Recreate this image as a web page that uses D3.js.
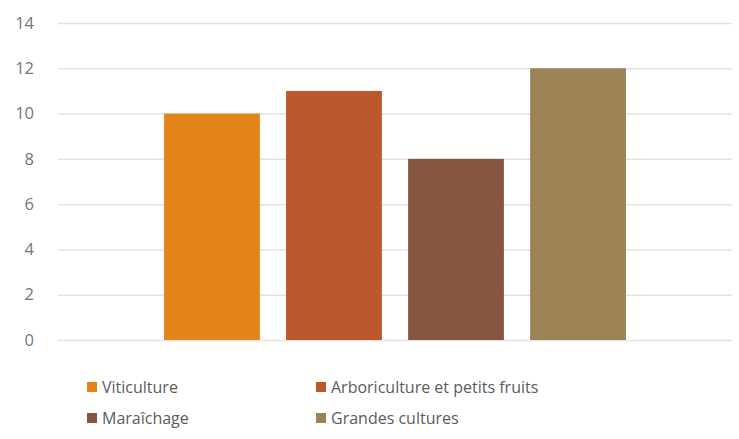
<!DOCTYPE html>
<html>
<head>
<meta charset="utf-8">
<script src="https://cdn.jsdelivr.net/npm/d3@7"></script>
<style>
  body { margin: 0; background: #fff; }
  svg { display: block; }
</style>
</head>
<body>
<svg id="chart" width="739" height="439"></svg>
<script>
"use strict"

const series = ["Viticulture", "Arboriculture et petits fruits", "Maraîchage", "Grandes cultures"]
const values = [10, 11, 8, 12]
const colors = ["#e38318", "#bd582c", "#875640", "#9b8356"]
const yTicks = [0, 2, 4, 6, 8, 10, 12, 14]

const width = 739, height = 439
const plot = { left: 58, right: 732, top: 23, bottom: 340 }

const svg = d3.select("#chart")

const y = d3.scaleLinear()
    .domain([0, 14])
    .range([plot.bottom, plot.top])

const x = d3.scaleBand()
    .domain(series)
    .range([plot.left + 93, plot.right - 93])
    .paddingInner(0.215)
    .paddingOuter(0.107)

// gridlines + tick labels
const yAxis = d3.axisLeft(y)
    .tickValues(yTicks)
    .tickSize(-(plot.right - plot.left))
    .tickPadding(24)

const gy = svg.append("g")
    .attr("class", "y axis")
    .attr("transform", "translate(" + plot.left + ",0)")
    .call(yAxis)

gy.select(".domain").remove()
gy.selectAll(".tick line")
    .attr("stroke", "#e3e3e3")
    .attr("stroke-width", 1.5)
gy.selectAll(".tick text")
    .attr("fill", "#767676")
    .style("font-family", "'Open Sans', sans-serif")
    .style("font-size", "16.5px")

// bars
svg.selectAll(".bar")
    .data(series)
    .enter()
    .append("rect")
    .attr("class", "bar")
    .attr("x", d => x(d))
    .attr("width", x.bandwidth())
    .attr("y", (d, i) => y(values[i]))
    .attr("height", (d, i) => y(0) - y(values[i]))
    .style("fill", (d, i) => colors[i])

// legend, two columns
const legend = svg.append("g").attr("class", "legend")
const legendCols = [87, 316]
const legendRows = [387, 418]

const items = legend.selectAll(".item")
    .data(series)
    .enter()
    .append("g")
    .attr("class", "item")
    .attr("transform", (d, i) => "translate(" + legendCols[i % 2] + "," + legendRows[Math.floor(i / 2)] + ")")

items.append("rect")
    .attr("x", 0)
    .attr("y", -5)
    .attr("width", 10)
    .attr("height", 10)
    .style("fill", (d, i) => colors[i])

items.append("text")
    .attr("x", 15)
    .attr("dy", "0.35em")
    .attr("fill", "#5c5c5c")
    .style("font-family", "'Open Sans', sans-serif")
    .style("font-size", "16px")
    .text(d => d)
</script>
</body>
</html>
